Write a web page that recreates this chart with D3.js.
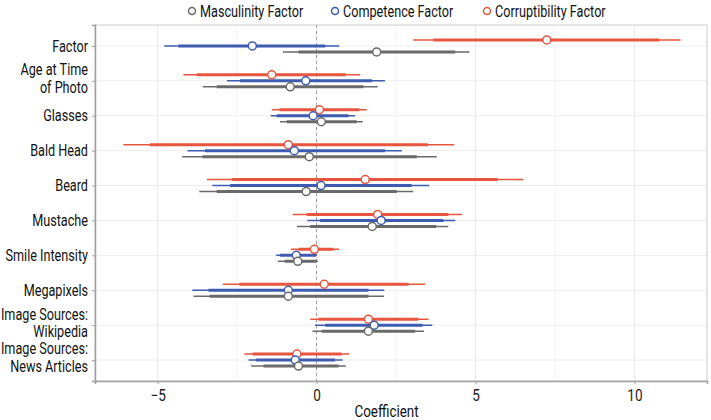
<!DOCTYPE html>
<html>
<head>
  <meta charset="utf-8">
  <title>Coefficient plot</title>
  <script src="https://d3js.org/d3.v7.min.js"></script>
  <style>
    body { margin: 0; background: #fff; }
    text { font-family: "Liberation Sans Narrow", "Roboto", sans-serif; }
  </style>
</head>
<body>
  <svg width="711" height="420"></svg>
  <script>
    // categories, top to bottom
    var categories = ["Factor", "Age at Time\nof Photo", "Glasses", "Bald Head", "Beard",
      "Mustache", "Smile Intensity", "Megapixels", "Image Sources:\nWikipedia", "Image Sources:\nNews Articles"];

    var legendOrder = ["Masculinity Factor", "Competence Factor", "Corruptibility Factor"];
    var xTicks = [-5, 0, 5, 10];

    // estimate, thick interval (low, high), thin interval (low, high)
    var corruptEst  = [7.24, -1.41, 0.09, -0.89, 1.53, 1.92, -0.07, 0.24, 1.63, -0.62];
    var corruptIn   = [[3.67, 10.78], [-3.77, 0.92], [-1.17, 1.35], [-5.24, 3.5], [-2.67, 5.69], [-0.31, 4.14], [-0.57, 0.53], [-2.43, 2.89], [0.06, 3.2], [-2.01, 0.79]];
    var corruptOut  = [[3.04, 11.45], [-4.19, 1.37], [-1.41, 1.58], [-6.08, 4.33], [-3.45, 6.5], [-0.75, 4.58], [-0.81, 0.71], [-2.95, 3.41], [-0.2, 3.52], [-2.27, 1.03]];

    var competEst   = [-2.02, -0.34, -0.11, -0.7, 0.14, 2.03, -0.64, -0.89, 1.81, -0.67];
    var competIn    = [[-4.35, 0.27], [-2.41, 1.74], [-1.25, 1.0], [-3.51, 2.15], [-2.72, 2.99], [0.11, 3.99], [-1.15, -0.02], [-3.4, 1.63], [0.27, 3.33], [-1.9, 0.58]];
    var competOut   = [[-4.79, 0.71], [-2.82, 2.15], [-1.44, 1.21], [-4.06, 2.68], [-3.28, 3.54], [-0.29, 4.36], [-1.27, 0.0], [-3.91, 2.13], [-0.05, 3.64], [-2.14, 0.82]];

    var mascEst     = [1.89, -0.83, 0.15, -0.23, -0.33, 1.75, -0.59, -0.89, 1.63, -0.57];
    var mascIn      = [[-0.57, 4.36], [-3.14, 1.47], [-0.94, 1.26], [-3.59, 3.15], [-3.14, 2.52], [-0.2, 3.76], [-1.0, 0.0], [-3.37, 1.63], [0.16, 3.1], [-1.67, 0.69]];
    var mascOut     = [[-1.06, 4.81], [-3.58, 1.92], [-1.15, 1.45], [-4.23, 3.78], [-3.69, 3.04], [-0.62, 4.14], [-1.22, 0.04], [-3.87, 2.12], [-0.13, 3.38], [-2.06, 0.92]];

    (function() {
      var colors = { "Corruptibility Factor": "#e8553f", "Competence Factor": "#3d5bb0", "Masculinity Factor": "#6a6a6a" };
      var offsets = { "Corruptibility Factor": -6, "Competence Factor": 0, "Masculinity Factor": 6 };

      var rows = [];
      categories.forEach(function(c, i) {
        rows.push({ cat: c, s: "Corruptibility Factor", est: corruptEst[i], inner: corruptIn[i], outer: corruptOut[i] });
        rows.push({ cat: c, s: "Competence Factor", est: competEst[i], inner: competIn[i], outer: competOut[i] });
        rows.push({ cat: c, s: "Masculinity Factor", est: mascEst[i], inner: mascIn[i], outer: mascOut[i] });
      });

      var pl = 95, pr = 707, pt = 25, pb = 381;
      var svg = d3.select("svg");

      var x = d3.scaleLinear().domain([-6.97, 12.28]).range([pl, pr]);
      var y = d3.scalePoint().domain(categories).range([pt, pb]).padding(0.6);

      // squeeze text a bit, the original uses a condensed face
      function condense(sel, k) {
        sel.each(function() {
          var w = this.getComputedTextLength();
          if (w > 0) d3.select(this).attr("textLength", w * k).attr("lengthAdjust", "spacingAndGlyphs");
        });
      }

      // grid
      var grid = svg.append("g");
      grid.selectAll(".minor").data([-2.5, 2.5, 7.5])
        .enter().append("line")
        .attr("x1", function(d) { return x(d); }).attr("x2", function(d) { return x(d); })
        .attr("y1", pt).attr("y2", pb)
        .attr("stroke", "#f3f3f3").attr("stroke-width", 1);
      grid.selectAll(".major").data(xTicks)
        .enter().append("line")
        .attr("x1", function(d) { return x(d); }).attr("x2", function(d) { return x(d); })
        .attr("y1", pt).attr("y2", pb)
        .attr("stroke", "#e9e9e9").attr("stroke-width", 1);
      grid.selectAll(".hrow").data(categories)
        .enter().append("line")
        .attr("x1", pl).attr("x2", pr)
        .attr("y1", function(d) { return y(d); }).attr("y2", function(d) { return y(d); })
        .attr("stroke", "#ededed").attr("stroke-width", 1);

      // panel border
      svg.append("rect").attr("x", pl).attr("y", pt)
        .attr("width", pr - pl).attr("height", pb - pt)
        .attr("fill", "none").attr("stroke", "#d4d4d4").attr("stroke-width", 1.2);

      // zero line
      svg.append("line")
        .attr("x1", x(0)).attr("x2", x(0)).attr("y1", pt).attr("y2", pb)
        .attr("stroke", "#9a9a9a").attr("stroke-width", 1).attr("stroke-dasharray", "3,3");

      // axes
      var xAxis = svg.append("g").attr("transform", "translate(0," + pb + ")")
        .call(d3.axisBottom(x).tickValues(xTicks).tickSize(3).tickFormat(function(d) { return d < 0 ? "\u2212" + Math.abs(d) : d; }));
      xAxis.select(".domain").attr("stroke", "#a0a0a0").attr("stroke-width", 1.5);
      xAxis.selectAll(".tick line").attr("stroke", "#a0a0a0");
      xAxis.selectAll(".tick text").attr("font-size", 16).attr("fill", "#222").attr("dy", "0.85em")
        .style("font-family", "'Liberation Sans Narrow', Roboto, sans-serif");
      condense(xAxis.selectAll(".tick text"), 0.85);

      var yAxis = svg.append("g").attr("transform", "translate(" + pl + ",0)")
        .call(d3.axisLeft(y).tickSize(3).tickFormat(""));
      yAxis.select(".domain").attr("stroke", "#a0a0a0").attr("stroke-width", 1.5);
      yAxis.selectAll(".tick line").attr("stroke", "#a0a0a0");

      // y labels (may be two lines)
      var labels = svg.append("g");
      categories.forEach(function(c) {
        var parts = c.split("\n");
        var t = labels.append("text")
          .attr("y", y(c))
          .attr("text-anchor", "end").attr("font-size", 16).attr("fill", "#111");
        parts.forEach(function(p, j) {
          t.append("tspan").attr("x", pl - 7)
            .attr("dy", j === 0 ? (parts.length === 1 ? "0.35em" : "-0.35em") : "1.1em")
            .text(p);
        });
      });
      condense(labels.selectAll("tspan"), 0.79);

      // x axis title
      var xt = svg.append("text").attr("x", x(2.2)).attr("y", 417)
        .attr("text-anchor", "middle").attr("font-size", 17).attr("fill", "#111")
        .text("Coefficient");
      condense(xt, 0.79);

      // intervals
      var marks = svg.append("g");
      function yy(d) { return y(d.cat) + offsets[d.s]; }
      marks.selectAll(".outer").data(rows).enter().append("line")
        .attr("x1", function(d) { return x(d.outer[0]); }).attr("x2", function(d) { return x(d.outer[1]); })
        .attr("y1", yy).attr("y2", yy)
        .attr("stroke", function(d) { return colors[d.s]; }).attr("stroke-width", 1.5);
      marks.selectAll(".inner").data(rows).enter().append("line")
        .attr("x1", function(d) { return x(d.inner[0]); }).attr("x2", function(d) { return x(d.inner[1]); })
        .attr("y1", yy).attr("y2", yy)
        .attr("stroke", function(d) { return colors[d.s]; }).attr("stroke-width", 3);
      marks.selectAll("circle").data(rows).enter().append("circle")
        .attr("cx", function(d) { return x(d.est); }).attr("cy", yy).attr("r", 4)
        .attr("fill", "#fff").attr("stroke", function(d) { return colors[d.s]; }).attr("stroke-width", 1.5);

      // legend
      var legX = [192, 335, 487];
      var leg = svg.append("g");
      legendOrder.forEach(function(s, i) {
        leg.append("circle").attr("cx", legX[i]).attr("cy", 11).attr("r", 3.5)
          .attr("fill", "#fff").attr("stroke", colors[s]).attr("stroke-width", 1.5);
        var lt = leg.append("text").attr("x", legX[i] + 8).attr("y", 16.5)
          .attr("font-size", 16).attr("fill", "#111").text(s);
        condense(lt, 0.79);
      });
    })();
  </script>
</body>
</html>
